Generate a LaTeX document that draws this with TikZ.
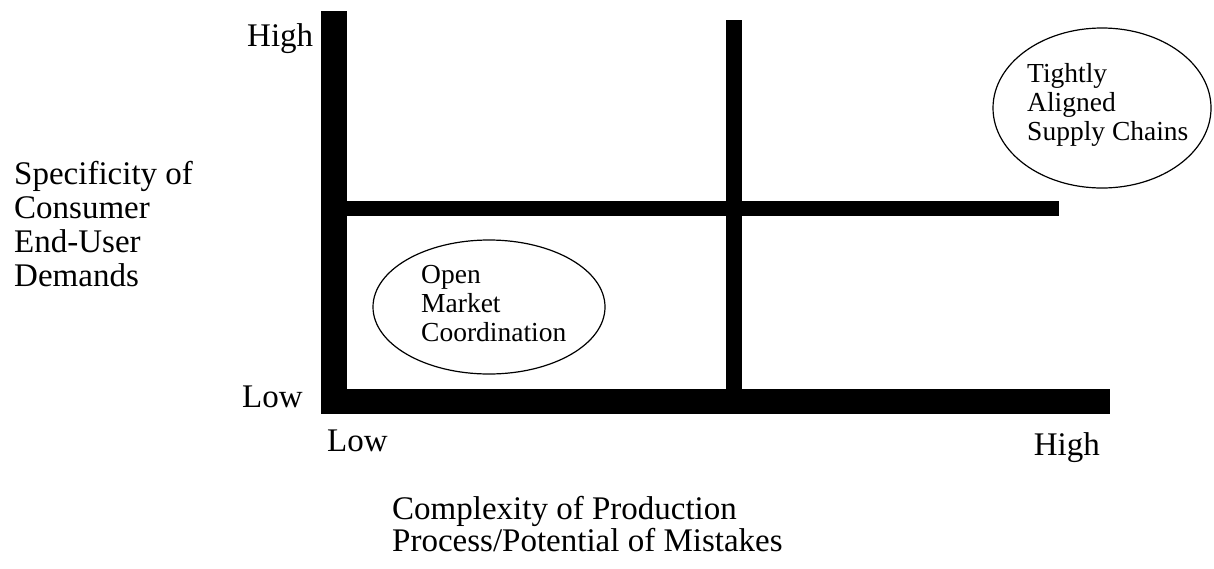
\documentclass[tikz,border=0pt]{standalone}
\usepackage{fontspec}
\setmainfont{Liberation Serif}
\begin{document}
\begin{tikzpicture}[x=1pt,y=-1pt,
  bar/.style={fill=black},
  axislbl/.style={inner sep=0pt, font=\fontsize{33}{33.7}\selectfont},
  ovaltext/.style={inner sep=0pt, align=left, anchor=base west, font=\fontsize{27.5}{29}\selectfont},
  oval/.style={draw=black, line width=1.2pt}]
\useasboundingbox (0,0) rectangle (1214,568);
% bars
\fill[bar] (321,11) rectangle (347,414);
\fill[bar] (726,20) rectangle (742,389);
\fill[bar] (347,201) rectangle (1059,216);
\fill[bar] (321,389) rectangle (1110,414);
% ellipses
\draw[oval] (489,307) ellipse [x radius=116, y radius=67];
\draw[oval] (1102,108) ellipse [x radius=109, y radius=80];
\node[ovaltext] (omc) at (421,341) {Open\\Market\\Coordination};
\node[ovaltext] (tasc) at (1027,140) {Tightly\\Aligned\\Supply Chains};
% axis labels
\node[axislbl, anchor=base west] (yhigh) at (247,46) {High};
\node[axislbl, anchor=base west] (ylow) at (242,407) {Low};
\node[axislbl, anchor=base west] (xlow) at (327,451) {Low};
\node[axislbl, anchor=base east] (xhigh) at (1100,455) {High};
\node[axislbl, anchor=base west, align=left] (ytitle) at (14,286) {Specificity of\\Consumer\\End-User\\Demands};
\node[inner sep=0pt, anchor=base west, align=left, font=\fontsize{33}{28}\selectfont] (xtitle) at (392,551) {Complexity of Production\\Process/Potential of Mistakes};
\end{tikzpicture}
\end{document}
